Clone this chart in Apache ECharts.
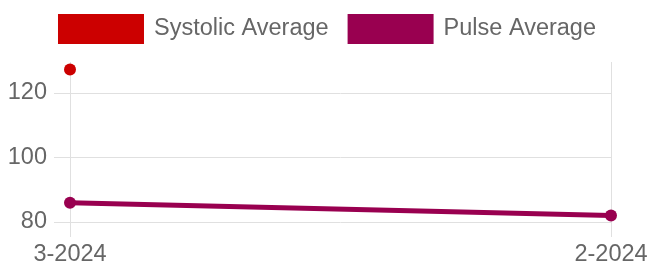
<!DOCTYPE html>
<html>
<head>
<meta charset="utf-8">
<script src="https://cdn.jsdelivr.net/npm/echarts@6/dist/echarts.min.js"></script>
<style>
html,body{margin:0;padding:0;background:#fff;}
#chart{width:654px;height:268px;}
</style>
</head>
<body>
<div id="chart"></div>
<script>
const categories = ['3-2024', '2-2024'];
const systolicAverage = [127.3, null];
const pulseAverage = [86, 82];
const yTicks = [80, 100, 120];

const FONT = "'Liberation Sans', Arial, Helvetica, sans-serif";
const GRID = '#e0e0e0';
const FS = 23.5;
const chart = echarts.init(document.getElementById('chart'));
chart.setOption({
  animation: false,
  textStyle: { fontFamily: FONT },
  legend: {
    left: 'center',
    top: 9,
    icon: 'rect',
    itemWidth: 86,
    itemHeight: 30,
    itemGap: 19,
    textStyle: { color: '#666', fontSize: FS, fontFamily: FONT, padding: [0, 0, 0, 5] },
    data: ['Systolic Average', 'Pulse Average']
  },
  grid: { left: 70, right: 43, top: 62, bottom: 46 },
  xAxis: {
    type: 'category',
    data: categories,
    boundaryGap: false,
    axisLine: { show: false },
    axisTick: { show: true, length: 15, lineStyle: { color: GRID } },
    splitLine: { show: true, lineStyle: { color: GRID, width: 1 } },
    axisLabel: { color: '#666', fontSize: FS, fontFamily: FONT, margin: 21 }
  },
  yAxis: {
    type: 'value',
    min: 80,
    max: 129.6,
    interval: 20,
    axisLine: { show: false },
    axisTick: { show: true, length: 16, lineStyle: { color: GRID }, customValues: yTicks },
    splitLine: { show: true, lineStyle: { color: [GRID, GRID, GRID, 'rgba(0,0,0,0)'], width: 1 } },
    axisLabel: { color: '#666', fontSize: FS, fontFamily: FONT, margin: 23, customValues: yTicks }
  },
  series: [
    {
      name: 'Systolic Average',
      type: 'line',
      data: systolicAverage,
      color: '#cc0000',
      symbol: 'circle',
      symbolSize: 12,
      lineStyle: { width: 5, color: '#cc0000' },
      itemStyle: { color: '#cc0000' }
    },
    {
      name: 'Pulse Average',
      type: 'line',
      data: pulseAverage,
      color: '#990050',
      symbol: 'circle',
      symbolSize: 12,
      lineStyle: { width: 5, color: '#990050' },
      itemStyle: { color: '#990050' }
    }
  ]
});
</script>
</body>
</html>
